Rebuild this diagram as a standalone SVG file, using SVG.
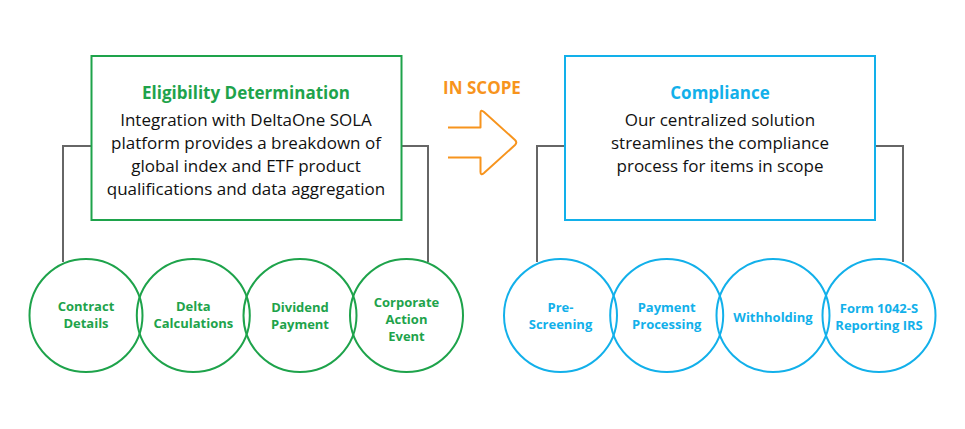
<svg xmlns="http://www.w3.org/2000/svg" width="965" height="429" viewBox="0 0 965 429">
<style>
text{font-family:"Open Sans","Noto Sans",sans-serif;text-anchor:middle}
.g{fill:none;stroke:#1ea34b;stroke-width:2}
.b{fill:none;stroke:#12b0ea;stroke-width:2}
.gt{fill:#1ea34b;font-weight:bold}
.bt{fill:#12b0ea;font-weight:bold}
.body{fill:#111;font-size:17px}
.h{font-size:17px}
.c{font-size:13px}
.conn{fill:none;stroke:#666;stroke-width:2}
</style>
<rect width="965" height="429" fill="#fff"/>
<g id="connectors">
<polyline class="conn" points="91,146 63,146 63,262"/>
<polyline class="conn" points="402,146 428,146 428,262"/>
<polyline class="conn" points="565,146 537,146 537,262"/>
<polyline class="conn" points="875,146 903,146 903,262"/>
</g>
<g id="eligibility">
<rect class="g" x="91.5" y="56" width="310" height="164"/>
<text class="gt h" x="246" y="99">Eligibility Determination</text>
<text class="body" x="246" y="126">Integration with DeltaOne SOLA</text>
<text class="body" x="246" y="149">platform provides a breakdown of</text>
<text class="body" x="246" y="172">global index and ETF product</text>
<text class="body" x="246" y="195">qualifications and data aggregation</text>
</g>
<g id="in-scope">
<text x="482" y="94" style="fill:#f7941d;font-weight:bold;font-size:17px">IN SCOPE</text>
<path d="M448,127.5 H480.5 V113 Q480.5,109 484,112 L515,140 Q517.5,142.5 515,145 L484,173 Q480.5,176 480.5,172 V157.5 H448" fill="none" stroke="#f7941d" stroke-width="2" stroke-linejoin="round"/>
</g>
<g id="compliance">
<rect class="b" x="565" y="56" width="310" height="164"/>
<text class="bt h" x="720" y="99">Compliance</text>
<text class="body" x="720" y="126">Our centralized solution</text>
<text class="body" x="720" y="149">streamlines the compliance</text>
<text class="body" x="720" y="172">process for items in scope</text>
</g>
<g id="contract-details">
<circle class="g" cx="86" cy="315.5" r="56.5"/>
<text class="gt c" x="86" y="311">Contract</text>
<text class="gt c" x="86" y="328">Details</text>
</g>
<g id="delta-calculations">
<circle class="g" cx="193.3" cy="315.5" r="56.5"/>
<text class="gt c" x="193.3" y="311">Delta</text>
<text class="gt c" x="193.3" y="328">Calculations</text>
</g>
<g id="dividend-payment">
<circle class="g" cx="300" cy="315.5" r="56.5"/>
<text class="gt c" x="300" y="311.5">Dividend</text>
<text class="gt c" x="300" y="328.5">Payment</text>
</g>
<g id="corporate-action-event">
<circle class="g" cx="406.5" cy="315.5" r="56.5"/>
<text class="gt c" x="406.5" y="307">Corporate</text>
<text class="gt c" x="406.5" y="324">Action</text>
<text class="gt c" x="406.5" y="341">Event</text>
</g>
<g id="pre-screening">
<circle class="b" cx="560.5" cy="315.5" r="56.5"/>
<text class="bt c" x="560.5" y="311.5">Pre-</text>
<text class="bt c" x="560.5" y="328.5">Screening</text>
</g>
<g id="payment-processing">
<circle class="b" cx="666.7" cy="315.5" r="56.5"/>
<text class="bt c" x="666.7" y="311.5">Payment</text>
<text class="bt c" x="666.7" y="328.5">Processing</text>
</g>
<g id="withholding">
<circle class="b" cx="773" cy="315.5" r="56.5"/>
<text class="bt c" x="773" y="321.5">Withholding</text>
</g>
<g id="form-1042s">
<circle class="b" cx="879" cy="315.5" r="56.5"/>
<text class="bt c" x="879" y="312.5">Form 1042-S</text>
<text class="bt c" x="879" y="329.5">Reporting IRS</text>
</g>
</svg>
